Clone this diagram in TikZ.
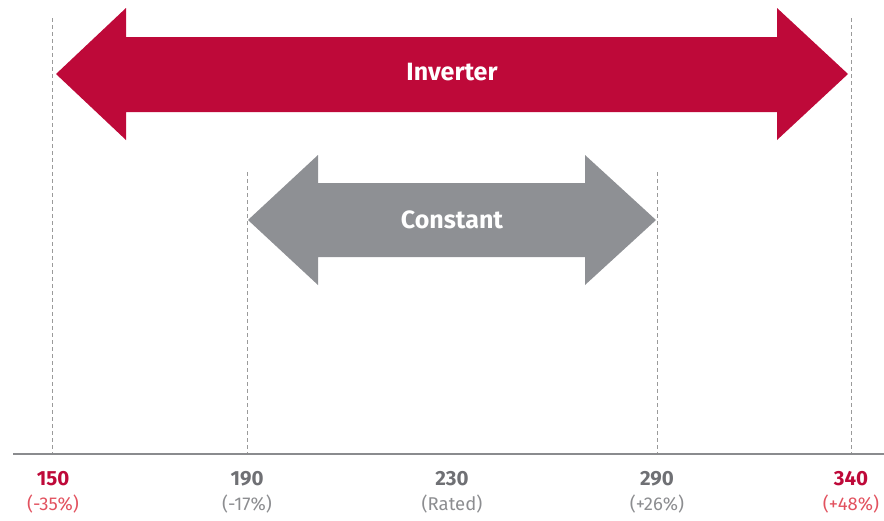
\documentclass[tikz,border=0pt]{standalone}
\usepackage{fontspec}
\setmainfont{Fira Sans}
\usepackage{tikz}
\usetikzlibrary{positioning}

\definecolor{invred}{HTML}{BE0939}
\definecolor{pctred}{HTML}{E2525F}
\definecolor{constgray}{HTML}{8E9094}
\definecolor{valgray}{HTML}{6F7074}
\definecolor{pctgray}{HTML}{8C8D90}
\definecolor{axisgray}{HTML}{8A8B8E}
\definecolor{guidegray}{HTML}{9A9A9A}

\begin{document}
\begin{tikzpicture}[x=1pt, y=-1pt]
        \tikzstyle{guide}=[guidegray, line width=0.8pt, dash pattern=on 4pt off 3pt]
        \tikzstyle{band}=[white, font=\fontsize{25}{28}\selectfont\bfseries, anchor=base, inner sep=0pt]
        \tikzstyle{value}=[font=\fontsize{20.5}{24}\selectfont\bfseries, anchor=base, inner sep=0pt]
        \tikzstyle{share}=[font=\fontsize{18.5}{22}\selectfont, anchor=base, inner sep=0pt]
        \useasboundingbox (0,0) rectangle (884,520);

        % axis
        \coordinate (axl) at (13,454);
        \coordinate (axr) at (884,454);

        % guide tops
        \coordinate (t150) at (52,18);
        \coordinate (t190) at (247,172);
        \coordinate (t290) at (657,172);
        \coordinate (t340) at (851,18);
        \draw[guide] (t150) -- (t150 |- axl);
        \draw[guide] (t190) -- (t190 |- axl);
        \draw[guide] (t290) -- (t290 |- axl);
        \draw[guide] (t340) -- (t340 |- axl);
        \draw[axisgray, line width=1.4pt] (axl) -- (axr);

        % inverter band
        \fill[invred] (56,74) -- (126,8) -- (126,37) -- (777,37) -- (777,8) -- (848,74)
          -- (777,140) -- (777,112) -- (126,112) -- (126,140) -- cycle;
        \node[band] (inv) at (452,80) {Inverter};

        % constant band
        \fill[constgray] (248,220) -- (318,155) -- (318,183) -- (585,183) -- (585,155) -- (656,220)
          -- (585,285) -- (585,257) -- (318,257) -- (318,285) -- cycle;
        \node[band] (con) at (452,228) {Constant};

        % scale values
        \node[value, invred] (v150) at (53,485) {150};
        \node[value, valgray] (v190) at (247,485) {190};
        \node[value, valgray] (v230) at (452,485) {230};
        \node[value, valgray] (v290) at (657,485) {290};
        \node[value, invred] (v340) at (851,485) {340};
        \node[share, pctred] (p150) at (53,510) {(-35\%)};
        \node[share, pctgray] (p190) at (247,510) {(-17\%)};
        \node[share, pctgray] (p230) at (452,510) {(Rated)};
        \node[share, pctgray] (p290) at (657,510) {(+26\%)};
        \node[share, pctred] (p340) at (851,510) {(+48\%)};
      \end{tikzpicture}
\end{document}
